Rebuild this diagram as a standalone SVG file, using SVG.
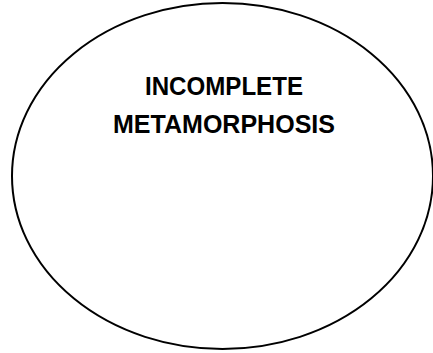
<svg xmlns="http://www.w3.org/2000/svg" width="433" height="353" viewBox="0 0 433 353">
<style>
.lbl{font-family:"Liberation Sans",Arial,sans-serif;font-weight:bold;font-size:25px;fill:#000;text-anchor:middle}
</style>
<rect width="433" height="353" fill="#fff"/>
<g id="node-incomplete-metamorphosis">
<ellipse cx="222.5" cy="176" rx="210.5" ry="173" fill="#fff" stroke="#000" stroke-width="2"/>
<text class="lbl" x="224" y="95" textLength="158" lengthAdjust="spacingAndGlyphs">INCOMPLETE</text>
<text class="lbl" x="224" y="133" textLength="222" lengthAdjust="spacingAndGlyphs">METAMORPHOSIS</text>
</g>
<g id="connectors"></g>
</svg>
